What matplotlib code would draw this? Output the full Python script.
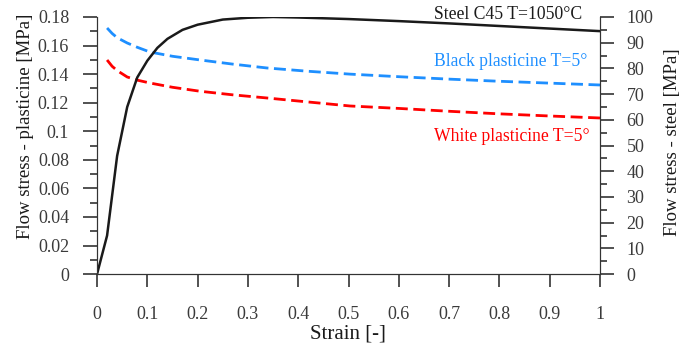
import matplotlib
matplotlib.use("Agg")
import matplotlib.pyplot as plt
from matplotlib.ticker import MultipleLocator

plt.rcParams['font.family'] = ['Liberation Serif', 'DejaVu Serif']

# steel C45, right axis [MPa]
strain_steel = [0, 0.02, 0.04, 0.06, 0.08, 0.1, 0.12, 0.14, 0.17, 0.2, 0.25, 0.3,
                0.35, 0.4, 0.5, 0.6, 0.7, 0.8, 0.9, 1.0]
stress_steel = [0, 15, 46, 65, 76.5, 83, 88, 91.5, 95, 97, 99, 99.7,
                100, 99.8, 99.2, 98.4, 97.5, 96.5, 95.5, 94.5]

# plasticine, left axis [MPa]
strain_pl = [0.02, 0.03, 0.04, 0.06, 0.08, 0.105, 0.15, 0.205, 0.27, 0.338, 0.42,
             0.503, 0.6, 0.7, 0.8, 0.9, 1.0]
stress_black = [0.1723, 0.1685, 0.1655, 0.1618, 0.1588, 0.1555, 0.1525, 0.1499, 0.1470,
                0.1443, 0.1420, 0.1400, 0.1382, 0.1365, 0.1350, 0.1337, 0.1324]
stress_white = [0.1499, 0.1455, 0.1425, 0.1380, 0.1358, 0.1338, 0.1308, 0.1280, 0.1255,
                0.1233, 0.1205, 0.1177, 0.1160, 0.1140, 0.1122, 0.1107, 0.1093]

fig = plt.figure(figsize=(6.98, 3.51), dpi=100)
ax = fig.add_axes([0.139, 0.219, 0.7206, 0.7326])
ax2 = ax.twinx()

ax.plot(strain_pl, stress_black, color='#1E8FFF', lw=2, dashes=(4.3, 2.0))
ax.plot(strain_pl, stress_white, color='#FF0000', lw=2, dashes=(4.3, 2.0))
ax2.plot(strain_steel, stress_steel, color='#1a1a1a', lw=1.8)

ax.set_xlim(0, 1)
ax.set_ylim(0, 0.18)
ax2.set_ylim(0, 100)

for a in (ax, ax2):
    a.spines['top'].set_visible(False)
    for s in a.spines.values():
        s.set_color('#333333')

ax.xaxis.set_major_locator(MultipleLocator(0.1))
ax.yaxis.set_major_locator(MultipleLocator(0.02))
ax.yaxis.set_minor_locator(MultipleLocator(0.01))
ax2.yaxis.set_major_locator(MultipleLocator(10))
ax2.yaxis.set_minor_locator(MultipleLocator(5))

ax.set_xticks([i / 10 for i in range(11)])
ax.set_xticklabels(['0', '0.1', '0.2', '0.3', '0.4', '0.5', '0.6', '0.7', '0.8', '0.9', '1'])
ax.set_yticks([i * 0.02 for i in range(10)])
ax.set_yticklabels(['0', '0.02', '0.04', '0.06', '0.08', '0.1', '0.12', '0.14', '0.16', '0.18'])

ax.tick_params(axis='x', which='major', direction='out', length=9, width=1.2,
               color='#333333', labelsize=13, labelcolor='#3a3a3a', pad=14)
ax.tick_params(axis='y', which='major', direction='out', length=10, width=1.2,
               color='#333333', labelsize=13, labelcolor='#3a3a3a', pad=10)
ax.tick_params(axis='y', which='minor', direction='out', length=5, width=1.2, color='#333333')
ax2.tick_params(axis='y', which='major', direction='out', length=10, width=1.2,
                color='#333333', labelsize=13, labelcolor='#3a3a3a', pad=9)
ax2.tick_params(axis='y', which='minor', direction='out', length=5, width=1.2, color='#333333')

ax.set_xlabel('Strain [-]', fontsize=15, color='#1a1a1a')
ax.xaxis.set_label_coords(0.498, -0.195)
ax.set_ylabel('Flow stress - plasticine [MPa]', fontsize=13.5, color='#1a1a1a')
ax.yaxis.set_label_coords(-0.125, 0.576)
ax2.set_ylabel('Flow stress - steel [MPa]', fontsize=13.5, color='#1a1a1a')
ax2.yaxis.set_label_coords(1.127, 0.515)

ax.text(0.964, 0.1815, 'Steel C45 T=1050\u00b0C', fontsize=12.7, color='#1a1a1a',
        ha='right', va='center')
ax.text(0.974, 0.1485, 'Black plasticine T=5\u00b0', fontsize=12.7, color='#1E8FFF',
        ha='right', va='center')
ax.text(0.98, 0.096, 'White plasticine T=5\u00b0', fontsize=12.7, color='#FF0000',
        ha='right', va='center')

fig.savefig('out.png', dpi=100)
